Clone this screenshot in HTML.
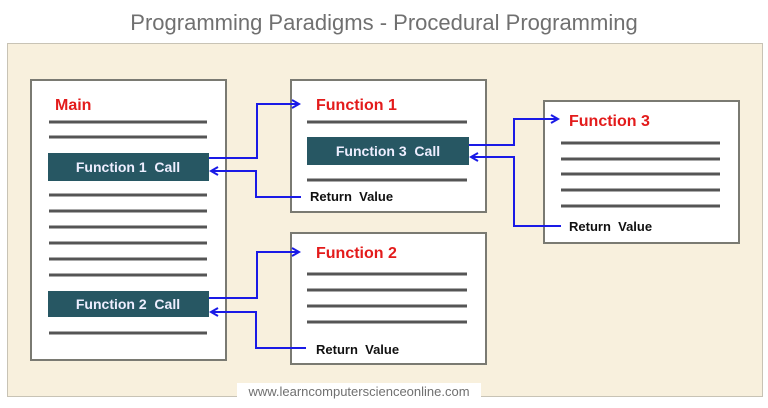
<!DOCTYPE html>
<html><head><style>
body{margin:0;width:768px;height:403px;background:#fff;overflow:hidden}
text{white-space:pre}
</style></head><body>
<svg width="768" height="403" viewBox="0 0 768 403" xmlns="http://www.w3.org/2000/svg" font-family="Liberation Sans, sans-serif" xml:space="preserve">
<defs>
<marker id="ah" markerWidth="10" markerHeight="10" refX="8" refY="5" orient="auto" markerUnits="userSpaceOnUse">
<path d="M1,1 L8,5 L1,9" fill="none" stroke="#1a1ae6" stroke-width="2"/>
</marker>
</defs>
<text x="384" y="30" text-anchor="middle" font-size="22" fill="#707070">Programming Paradigms - Procedural Programming</text>
<rect x="7.5" y="43.5" width="755" height="353" fill="#f8f0dd" stroke="#c8c3b5"/>
<g stroke="#7a7a72" stroke-width="2" fill="#fff">
<rect x="31" y="80" width="195" height="280"/>
<rect x="291" y="80" width="195" height="132"/>
<rect x="544" y="101" width="195" height="142"/>
<rect x="291" y="233" width="195" height="131"/>
</g>
<g stroke="#555" stroke-width="3">
<line x1="49" x2="207" y1="122" y2="122"/><line x1="49" x2="207" y1="137" y2="137"/>
<line x1="49" x2="207" y1="195" y2="195"/><line x1="49" x2="207" y1="211" y2="211"/>
<line x1="49" x2="207" y1="227" y2="227"/><line x1="49" x2="207" y1="243" y2="243"/>
<line x1="49" x2="207" y1="259" y2="259"/><line x1="49" x2="207" y1="275" y2="275"/>
<line x1="49" x2="207" y1="333" y2="333"/>
<line x1="307" x2="467" y1="122" y2="122"/><line x1="307" x2="467" y1="180" y2="180"/>
<line x1="561" x2="720" y1="143" y2="143"/><line x1="561" x2="720" y1="159" y2="159"/>
<line x1="561" x2="720" y1="174" y2="174"/><line x1="561" x2="720" y1="190" y2="190"/>
<line x1="561" x2="720" y1="206" y2="206"/>
<line x1="307" x2="467" y1="274" y2="274"/><line x1="307" x2="467" y1="290" y2="290"/>
<line x1="307" x2="467" y1="306" y2="306"/><line x1="307" x2="467" y1="322" y2="322"/>
</g>
<g fill="#275763">
<rect x="48" y="153" width="161" height="28"/>
<rect x="48" y="291" width="161" height="26"/>
<rect x="307" y="137" width="162" height="28"/>
</g>
<g fill="#eef" font-weight="bold" font-size="14" text-anchor="middle">
<text x="128" y="172">Function 1  Call</text>
<text x="128" y="309">Function 2  Call</text>
<text x="388" y="156">Function 3  Call</text>
</g>
<g fill="#e31b1b" font-weight="bold" font-size="16">
<text x="55" y="110">Main</text>
<text x="316" y="110">Function 1</text>
<text x="569" y="126">Function 3</text>
<text x="316" y="258">Function 2</text>
</g>
<g fill="#111" font-weight="bold" font-size="13">
<text x="310" y="201">Return  Value</text>
<text x="569" y="231">Return  Value</text>
<text x="316" y="354">Return  Value</text>
</g>
<g fill="none" stroke="#1a1ae6" stroke-width="2">
<path d="M209 158 H257 V104 H299" marker-end="url(#ah)"/>
<path d="M301 197 H256 V171 H211" marker-end="url(#ah)"/>
<path d="M469 145 H514 V119 H558" marker-end="url(#ah)"/>
<path d="M561 226 H514 V157 H471" marker-end="url(#ah)"/>
<path d="M209 298 H257 V252 H299" marker-end="url(#ah)"/>
<path d="M306 348 H256 V312 H211" marker-end="url(#ah)"/>
</g>
<rect x="237" y="383" width="244" height="18" fill="#fff"/>
<text x="359" y="396" text-anchor="middle" font-size="13" fill="#707070">www.learncomputerscienceonline.com</text>
</svg>
</body></html>
